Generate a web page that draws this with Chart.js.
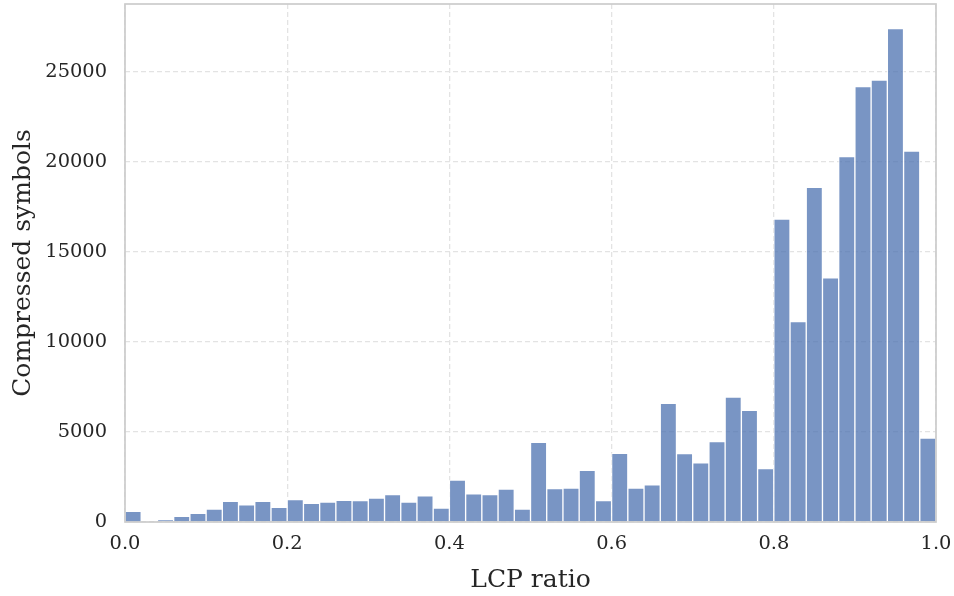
<!DOCTYPE html>
<html>
<head>
<meta charset="utf-8">
<script src="https://cdn.jsdelivr.net/npm/chart.js@4.4.1/dist/chart.umd.min.js"></script>
<style>
  html, body { margin: 0; padding: 0; background: #fff; }
  #wrap { width: 954px; height: 596px; position: relative; }
</style>
</head>
<body>
<div id="wrap"><canvas id="hist"></canvas></div>
<script>
// --- Data (50 bins of width 0.02) ---
const binCenters = [
  0.01, 0.03, 0.05, 0.07, 0.09, 0.11, 0.13, 0.15, 0.17, 0.19,
  0.21, 0.23, 0.25, 0.27, 0.29, 0.31, 0.33, 0.35, 0.37, 0.39,
  0.41, 0.43, 0.45, 0.47, 0.49, 0.51, 0.53, 0.55, 0.57, 0.59,
  0.61, 0.63, 0.65, 0.67, 0.69, 0.71, 0.73, 0.75, 0.77, 0.79,
  0.81, 0.83, 0.85, 0.87, 0.89, 0.91, 0.93, 0.95, 0.97, 0.99
];
const counts = [
  590, 0, 130, 310, 480, 720, 1150, 950, 1150, 820,
  1240, 1040, 1110, 1200, 1190, 1330, 1520, 1110, 1460, 780,
  2330, 1570, 1520, 1830, 720, 4430, 1850, 1890, 2870, 1190,
  3820, 1890, 2060, 6590, 3800, 3280, 4460, 6940, 6200, 2970,
  16820, 11130, 18590, 13560, 20290, 24190, 24540, 27400, 20600, 4660
];
const xTicks = [0.0, 0.2, 0.4, 0.6, 0.8, 1.0];
const yTicks = [0, 5000, 10000, 15000, 20000, 25000];

const xTitle = 'LCP ratio';
const yTitle = 'Compressed symbols';

// --- Style ---
const FONT = '"DejaVu Serif", serif';
const TEXT = '#262626';
const GRID = '#e3e3e3';
const FRAME = '#cccccc';

// frame around the plot area (all four spines)
const framePlugin = {
  id: 'frame',
  afterDraw(chart) {
    const { ctx, chartArea: a } = chart;
    ctx.save();
    ctx.strokeStyle = FRAME;
    ctx.lineWidth = 1.7;
    ctx.strokeRect(a.left, a.top, a.right - a.left, a.bottom - a.top);
    ctx.restore();
  }
};

const ctx = document.getElementById('hist').getContext('2d');
new Chart(ctx, {
  type: 'bar',
  data: {
    datasets: [{
      label: 'count',
      data: binCenters.map((x, i) => ({ x: x, y: counts[i] })),
      backgroundColor: 'rgba(76, 114, 176, 0.75)',
      borderColor: 'rgba(255, 255, 255, 0.85)',
      borderWidth: 1,
      barPercentage: 1.0,
      categoryPercentage: 1.0
    }]
  },
  options: {
    responsive: true,
    maintainAspectRatio: false,
    animation: false,
    devicePixelRatio: 1,
    layout: { padding: { top: 4, right: 18, left: 0, bottom: 0 } },
    plugins: {
      legend: { display: false },
      tooltip: { enabled: false }
    },
    scales: {
      x: {
        type: 'linear',
        min: 0,
        max: 1,
        offset: false,
        afterBuildTicks: (s) => { s.ticks = xTicks.map(v => ({ value: v })); },
        afterFit: (s) => { s.height = 74; s.paddingLeft = 0; s.paddingRight = 0; },
        ticks: {
          padding: 10,
          color: TEXT,
          font: { family: FONT, size: 19.4 },
          callback: (v) => v.toFixed(1)
        },
        grid: {
          color: GRID,
          lineWidth: 1.3,
          drawTicks: false,
          offset: false
        },
        border: { display: false, dash: [5, 3] },
        title: {
          display: true,
          text: xTitle,
          color: TEXT,
          font: { family: FONT, size: 25 },
          padding: { top: 0, bottom: 1 }
        }
      },
      y: {
        min: 0,
        max: Math.max(...counts) * 1.05,
        afterBuildTicks: (s) => { s.ticks = yTicks.map(v => ({ value: v })); },
        afterFit: (s) => { s.width = 125; s.paddingTop = 0; s.paddingBottom = 0; },
        ticks: {
          padding: 18,
          color: TEXT,
          font: { family: FONT, size: 19.4 },
          callback: (v) => String(v)
        },
        grid: {
          color: GRID,
          lineWidth: 1.3,
          drawTicks: false
        },
        border: { display: false, dash: [5, 3] },
        title: {
          display: true,
          text: yTitle,
          color: TEXT,
          font: { family: FONT, size: 25 },
          padding: { top: 8, bottom: 0 }
        }
      }
    }
  },
  plugins: [framePlugin]
});
</script>
</body>
</html>
